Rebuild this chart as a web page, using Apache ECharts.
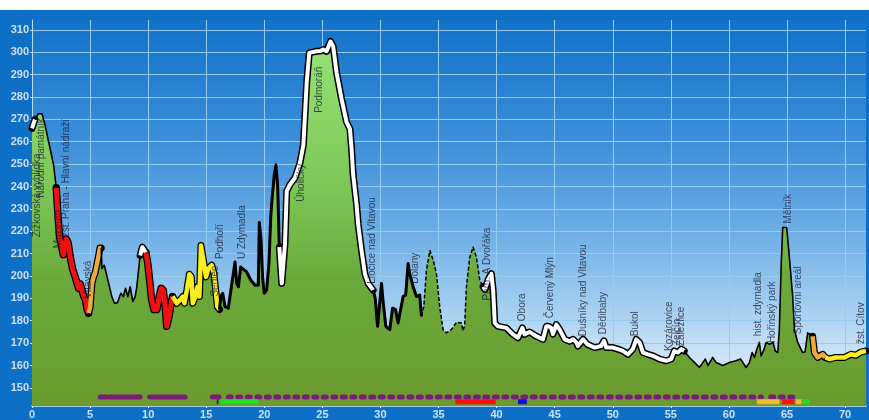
<!DOCTYPE html>
<html>
<head>
<meta charset="utf-8">
<script src="https://cdn.jsdelivr.net/npm/echarts@6/dist/echarts.min.js"></script>
<style>
	html, body { margin: 0; padding: 0; background: #fff; }
	#main { position: absolute; left: 0; top: 10px; width: 869px; height: 410px; }
</style>
</head>
<body>
<div id="main"></div>
<script>
	// vyskovy profil trasy: km / m n. m.
	var km = [0, 0.25, 0.55, 0.86, 1.1, 1.43, 1.86, 2.09, 2.25, 2.38, 2.55, 2.7, 2.85, 2.95, 3.1, 3.3, 3.5, 3.72, 4.0, 4.15, 4.3, 4.45, 4.6, 4.75, 4.87,
		5.0, 5.16, 5.3, 5.44, 5.58, 5.73, 5.85, 5.96, 6.02, 6.22, 6.4, 6.6, 6.87, 7.1, 7.35, 7.65, 7.87, 8.05, 8.25, 8.45, 8.68, 8.88, 9.02, 9.31,
		9.5, 9.65, 9.8, 9.97, 10.15, 10.3, 10.5, 10.75, 10.95, 11.12, 11.3, 11.47, 11.6, 11.8, 11.98, 12.1, 12.24, 12.47, 12.75, 12.98, 13.12,
		13.33, 13.55, 13.72, 13.84, 14.07, 14.24, 14.41, 14.55, 14.66, 14.8, 14.98, 15.19, 15.47, 15.67, 15.84, 15.96, 16.14, 16.25, 16.42,
		16.62, 16.9, 17.05, 17.25, 17.48, 17.62, 17.77, 17.97, 18.14, 18.48, 18.83, 19.2, 19.48, 19.57, 19.65, 19.72, 19.85, 19.99, 20.2, 20.4,
		20.55, 20.63, 20.85, 21.0, 21.15, 21.29, 21.5, 21.78, 21.93, 22.2, 22.64, 23.07, 23.36, 23.5, 23.65, 23.87, 24.5, 24.8, 25.07, 25.36,
		25.7, 25.93, 26.22, 26.65, 27.08, 27.37, 27.51, 27.65, 27.94, 28.08, 28.37, 28.66, 28.94, 29.37, 29.55, 29.75, 29.9, 30.09, 30.2, 30.46,
		30.8, 31.04, 31.3, 31.52, 31.7, 31.95, 32.17, 32.38, 32.52, 32.81, 33.1, 33.38, 33.53, 33.73, 33.96, 34.25, 34.54, 34.82, 35.1, 35.39,
		35.68, 36.1, 36.54, 36.97, 37.1, 37.25, 37.4, 37.69, 37.97, 38.26, 38.55, 38.84, 39.0, 39.26, 39.55, 39.7, 39.84, 40.12, 40.84, 41.41,
		41.84, 42.22, 42.4, 42.83, 43.41, 43.99, 44.28, 44.5, 44.7, 44.85, 45.14, 45.43, 45.86, 46.29, 46.58, 46.87, 47.0, 47.44, 47.8, 48.44,
		49.0, 49.24, 49.44, 50.0, 50.44, 50.87, 51.3, 51.73, 52.02, 52.3, 52.6, 53.03, 53.46, 54.02, 54.6, 55.03, 55.3, 55.6, 55.9, 56.15,
		56.6, 57.18, 57.46, 57.75, 57.97, 58.2, 58.6, 58.9, 59.47, 60.04, 60.6, 61.0, 61.48, 61.76, 62.0, 62.2, 62.4, 62.62, 62.77, 62.97,
		63.2, 63.5, 63.8, 63.99, 64.2, 64.34, 64.5, 64.63, 64.97, 65.2, 65.49, 65.64, 65.92, 66.2, 66.35, 66.55, 66.78, 66.98, 67.2, 67.36,
		67.64, 68.07, 68.3, 68.65, 69.2, 69.95, 70.5, 70.93, 71.36, 71.8];
	var elev = [266, 270, 272.5, 272.5, 268, 260, 249.6, 239.4, 226, 217.3, 216.5, 209.5, 210, 216.5, 215, 208.4, 203, 199.6, 194.5, 196.5, 196.7, 191, 189.5, 185, 183.4,
		186, 196.7, 199.6, 201.5, 202, 209, 212.5, 212.5, 203.3, 204.8, 201, 196.7, 190.8, 187.8, 188, 192.3, 190.8, 194.5, 190.8, 195.2, 188.6, 190.8, 195, 209.2,
		212.9, 212.5, 210.5, 205.6, 197, 189.3, 185, 185, 190.8, 194.5, 193.6, 186.3, 177.5, 182, 187.8, 190.8, 191.5, 187.8, 189.3, 190.8, 187.8,
		193.7, 200.8, 199.6, 187.8, 190.8, 195.2, 190.8, 213.6, 214, 205.6, 199.6, 203.3, 204.8, 201, 192.3, 186.3, 185, 190.8, 192.3,
		186.3, 185.6, 186.3, 198.2, 206.3, 196.7, 195.2, 204, 204.8, 201.8, 198.2, 195.9, 195.9, 223.9, 223.9, 215.8, 199.6, 192.3, 193.7, 205.6,
		226.1, 232, 245, 249.6, 240, 212.9, 196.7, 214.3, 237.9, 240.8, 243.8, 250.5, 258.5, 271.7, 286.5, 299.7, 300.4, 300.5, 301.2, 300.4,
		304.8, 302.6, 290.9, 279.1, 268.8, 265.8, 257, 245.2, 232, 223.2, 211.4, 201, 196.7, 193.7, 190, 177.5, 177.5, 196.7, 190, 177.5,
		176, 185.6, 185, 179, 184, 190.8, 191.5, 205.6, 201, 195.2, 190.8, 191.5, 182, 186.3, 202.6, 211.4, 207, 201, 186.3, 176,
		174.6, 176, 179.3, 179, 175.5, 178, 195.2, 208.4, 212.9, 208.4, 198.2, 195.2, 194, 198.2, 201, 193.7, 179, 177.5, 176.8, 173.9,
		172.4, 176.8, 173.9, 175, 173.1, 171.7, 177.5, 177.5, 176.8, 174, 178.3, 176, 171.7, 170.8, 171.7, 170.3, 168.7, 171.7, 169.5, 168,
		168.7, 171, 168, 168, 167.3, 166.5, 165, 167.3, 171.7, 170.3, 165.8, 165, 164.3, 162.9, 162.1, 162.9, 166.5, 165.8, 167.3, 166.5,
		163.6, 160.6, 159.1, 161.3, 162.9, 160, 163.6, 161.3, 160, 161.3, 162.1, 162.9, 159.1, 161.3, 165.8, 163.6, 167.3, 170.3, 164.3, 166.5,
		170.3, 169.5, 170.3, 166.5, 165.8, 176, 205, 221.7, 221.7, 208.4, 190.8, 176, 170.3, 167.3, 165.8, 166, 174.6, 173.9, 173.1, 165.8,
		163.6, 165, 163.6, 162.9, 163.6, 163.6, 165, 164.6, 166, 166.5];

	// useky trasy podle typu
	var routeFrom = [0, 0.25, 2.09, 4.87, 5.96, 9.31, 9.8, 12.1, 16.14, 21.29, 29.37, 33.53, 38.84, 56.15, 67.2, 68.3];
	var routeTo = [0.25, 2.09, 4.87, 5.96, 9.31, 9.8, 12.1, 16.14, 21.29, 29.37, 33.53, 38.84, 56.15, 67.2, 68.3, 71.8];
	var routeType = ['white', 'thin', 'red', 'orange', 'thin', 'white', 'red', 'yellow', 'black', 'white', 'black', 'dashed', 'white', 'thin', 'orange', 'yellow'];

	// povrch (fialove pasy) a spodni barevne pasy
	var surfFrom = [5.87, 6.73, 10.12, 15.53, 16.9, 63.6];
	var surfTo = [6.48, 9.31, 13.18, 16.1, 62.8, 65.9];
	var surfType = ['solid', 'solid', 'solid', 'solid', 'dots', 'dots'];
	var bandFrom = [15.9, 16.2, 36.45, 41.84, 62.4, 64.57, 65.76, 66.34];
	var bandTo = [16.05, 19.5, 39.92, 42.6, 64.35, 65.63, 66.25, 66.98];
	var bandType = ['dark', 'green', 'red', 'blue', 'orange', 'red', 'orange', 'green'];
	var surfLevel = 145.9;
	var bandLevel = 143.8;

	// popisky
	var labelName = ['Žižkovská vyhlídka', 'Národní památník', 'Muzeum', 'žst. Praha - Hlavní nádraží', 'Vltavská', 'Sedlec', 'Podhoří', 'U Zdymadla',
		'Úholičky', 'Podmoráň', 'Libčice nad Vltavou', 'Dolany', 'Pam. A Dvořáka', 'Obora', 'Červený Mlýn', 'Dušníky nad Vltavou', 'Dědibaby',
		'Bukol', 'Kozárovice', 'Zelčín', 'Zálezlice', 'hist. zdymadla', 'Hořínský park', 'Mělník', 'Sportovní areál', 'žst. Cítov'];
	var labelKm = [0.46, 0.8, 2.22, 2.91, 4.84, 15.76, 16.19, 18.08, 23.16, 24.7, 29.26, 32.96, 39.19, 42.24, 44.65, 47.49, 49.21,
		51.96, 54.88, 55.53, 55.87, 62.54, 63.74, 65.12, 66.0, 71.4];
	var labelElev = [217.3, 235, 212.4, 217.3, 189.9, 190.8, 207.6, 207.6, 233.2, 272.9, 196.5, 196.5, 189, 179.8, 181.1, 173.1, 174,
		173.1, 166.5, 168.7, 168.7, 173.1, 170, 223.5, 174, 169.6];

	var routeStyle = {
		white: { outline: 7, color: '#ffffff', width: 4 },
		red: { outline: 7.5, color: '#ee1111', width: 5 },
		orange: { outline: 7, color: '#f0a83a', width: 4.5 },
		yellow: { outline: 7, color: '#fbee1e', width: 4.5 },
		black: { color: '#000000', width: 3 },
		thin: { color: '#000000', width: 1.6 },
		dashed: { color: '#000000', width: 1.5, type: [4, 2] }
	};
	var bandColor = { dark: '#16405a', green: '#22dd22', red: '#ff1010', blue: '#1010dd', orange: '#f2b83a' };

	var profile = km.map(function(k, i) { return [k, elev[i]]; });
	function part(a, b) {
		return profile.filter(function(p) { return p[0] >= a && p[0] <= b; });
	}

	var series = [{
		type: 'line',
		data: profile,
		symbol: 'none',
		silent: true,
		z: 1,
		lineStyle: { width: 0 },
		areaStyle: {
			opacity: 1,
			color: new echarts.graphic.LinearGradient(0, 0, 0, 1, [
				{ offset: 0, color: '#96e276' },
				{ offset: 0.4, color: '#7cc756' },
				{ offset: 0.65, color: '#6aaa3c' },
				{ offset: 1, color: '#6a9a2e' }
			])
		}
	}];

	// obrysy barevnych useku
	routeType.forEach(function(t, i) {
		var s = routeStyle[t];
		if (s.outline) {
			series.push({
				type: 'line', data: part(routeFrom[i], routeTo[i]), symbol: 'none', silent: true, z: 3,
				lineStyle: { color: '#000', width: s.outline, cap: 'round', join: 'round' }
			});
		}
	});
	routeType.forEach(function(t, i) {
		var s = routeStyle[t];
		series.push({
			type: 'line', data: part(routeFrom[i], routeTo[i]), symbol: 'none', silent: true, z: 4,
			lineStyle: { color: s.color, width: s.width, type: s.type || 'solid', join: 'round' }
		});
	});

	surfType.forEach(function(t, i) {
		series.push({
			type: 'line', data: [[surfFrom[i], surfLevel], [surfTo[i], surfLevel]], symbol: 'none', silent: true, z: 5,
			lineStyle: { color: '#7a1c7c', width: 5, cap: 'round', type: t == 'dots' ? [3, 6.5] : 'solid' }
		});
	});
	bandType.forEach(function(t, i) {
		series.push({
			type: 'line', data: [[bandFrom[i], bandLevel], [bandTo[i], bandLevel]], symbol: 'none', silent: true, z: 5,
			lineStyle: { color: bandColor[t], width: 5 }
		});
	});

	series.push({
		type: 'scatter',
		symbolSize: 1,
		itemStyle: { color: 'rgba(0,0,0,0)' },
		silent: true,
		z: 6,
		data: labelName.map(function(n, i) { return { name: n, value: [labelKm[i], labelElev[i]] }; }),
		label: {
			show: true,
			formatter: '{b}',
			position: 'inside',
			rotate: 90,
			align: 'left',
			verticalAlign: 'middle',
			color: '#1a2238',
			fontSize: 10,
			fontFamily: 'Liberation Sans'
		}
	});

	var chart = echarts.init(document.getElementById('main'));
	var option = {
		animation: false,
		backgroundColor: '#0d70c6',
		grid: {
			left: 32, right: 3, top: 10, bottom: 9.3,
			show: true,
			borderWidth: 0,
			backgroundColor: new echarts.graphic.LinearGradient(0, 0, 0, 1, [
				{ offset: 0, color: '#1272c9' },
				{ offset: 0.3, color: '#3a8dd8' },
				{ offset: 0.55, color: '#6eaee5' },
				{ offset: 0.75, color: '#a6cff0' },
				{ offset: 0.88, color: '#cfe5f7' },
				{ offset: 1, color: '#dcecf9' }
			])
		},
		xAxis: {
			type: 'value',
			min: 0,
			max: 71.8,
			interval: 5,
			axisLine: { show: true, lineStyle: { color: '#d6ecfa', width: 1.5 } },
			axisTick: { show: true, length: 2, lineStyle: { color: '#d6ecfa' } },
			axisLabel: {
				color: '#cfe0f0', fontSize: 11, fontWeight: 'bold', fontFamily: 'Liberation Sans', margin: 3,
				showMaxLabel: false
			},
			splitLine: { show: true, showMaxLine: false, lineStyle: { color: '#93cdf2', width: 1 } }
		},
		yAxis: {
			type: 'value',
			min: 141.9,
			max: 314.4,
			minInterval: 10,
			maxInterval: 10,
			splitNumber: 17,
			axisLine: { show: true, lineStyle: { color: '#b8def8', width: 1 } },
			axisTick: { show: true, length: 2, lineStyle: { color: '#b8def8' } },
			axisLabel: {
				color: '#d2dfed', fontSize: 11, fontWeight: 'bold', fontFamily: 'Liberation Sans', margin: 3,
				showMinLabel: false, showMaxLabel: false
			},
			splitLine: { show: true, showMinLine: false, showMaxLine: false, lineStyle: { color: '#93cdf2', width: 1 } }
		},
		series: series
	};
	chart.setOption(option);
</script>
</body>
</html>
